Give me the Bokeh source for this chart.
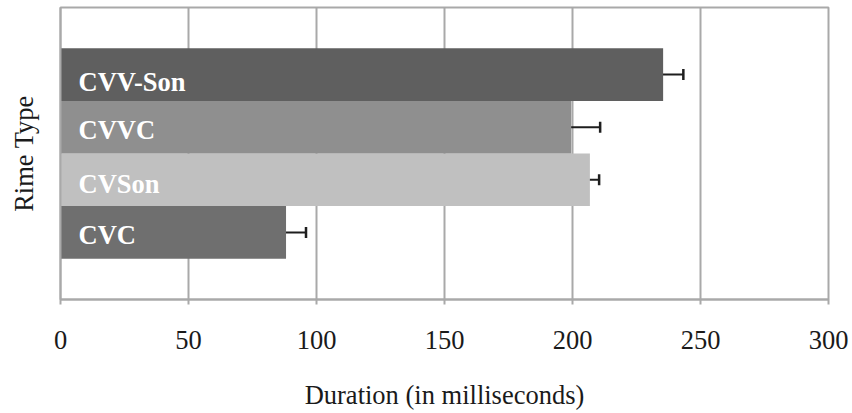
from bokeh.plotting import figure
from bokeh.models import ColumnDataSource, FactorRange, Range1d, FixedTicker, Whisker, TeeHead
from bokeh.core.properties import value
from bokeh.embed import file_html
from bokeh.resources import INLINE

# ---- data (bottom to top) ----
categories = ["CVC", "CVSon", "CVVC", "CVV-Son"]
durations = [88.1, 206.8, 199.5, 235.4]
errors = [7.8, 3.6, 11.3, 7.9]
bar_colors = ["#6f6f6f", "#c0c0c0", "#8f8f8f", "#5f5f5f"]
x_ticks = [0, 50, 100, 150, 200, 250, 300]

# style: label vertical nudges (px)
label_dy = [3, 4, 3, 7]

FONT = "Liberation Serif"
FS = "26.5px"
GRID = "#a9a9a9"

src = ColumnDataSource(dict(
    cat=categories,
    dur=durations,
    lo=[d - e for d, e in zip(durations, errors)],
    hi=[d + e for d, e in zip(durations, errors)],
    color=bar_colors,
    dy=label_dy,
))

p = figure(
    width=852, height=413,
    y_range=FactorRange(*categories, range_padding=0.775, range_padding_units="absolute"),
    x_range=Range1d(0, 300),
    output_backend="svg", toolbar_location=None,
    min_border_left=60, min_border_right=24, min_border_top=7, min_border_bottom=114,
)

p.hbar(y="cat", right="dur", left=0, height=1.0, source=src,
       fill_color="color", line_color=None)

p.add_layout(Whisker(base="cat", lower="lo", upper="hi", dimension="width", source=src,
                     line_color="#1e1e1e", line_width=2,
                     lower_head=TeeHead(size=11, line_color="#1e1e1e", line_width=2.5),
                     upper_head=TeeHead(size=11, line_color="#1e1e1e", line_width=2.5)))

p.text(x=0, y="cat", text="cat", source=src, x_offset=18, y_offset="dy",
       text_font=value(FONT), text_font_size=FS, text_font_style="bold",
       text_color="white", text_baseline="middle", text_align="left")

# x axis
p.xaxis.ticker = FixedTicker(ticks=x_ticks)
p.xaxis.axis_label = "Duration (in milliseconds)"
p.xaxis.axis_label_text_font = FONT
p.xaxis.axis_label_text_font_size = FS
p.xaxis.axis_label_text_font_style = "normal"
p.xaxis.axis_label_text_color = "#1a1a1a"
p.xaxis.axis_label_standoff = 28
p.xaxis.major_label_text_font = FONT
p.xaxis.major_label_text_font_size = FS
p.xaxis.major_label_text_color = "#1a1a1a"
p.xaxis.major_label_standoff = 26
p.xaxis.axis_line_color = GRID
p.xaxis.axis_line_width = 2
p.xaxis.major_tick_line_color = GRID
p.xaxis.major_tick_line_width = 2
p.xaxis.major_tick_out = 5
p.xaxis.major_tick_in = 0
p.xaxis.minor_tick_line_color = None

# y axis: no ticks / tick labels, only the title
p.yaxis.ticker = FixedTicker(ticks=[])
p.yaxis.axis_label = "Rime Type"
p.yaxis.axis_label_text_font = FONT
p.yaxis.axis_label_text_font_size = FS
p.yaxis.axis_label_text_font_style = "normal"
p.yaxis.axis_label_text_color = "#1a1a1a"
p.yaxis.axis_label_standoff = 22
p.yaxis.major_tick_out = 0
p.yaxis.major_tick_in = 0
p.yaxis.major_tick_line_color = None
p.yaxis.axis_line_color = GRID
p.yaxis.axis_line_width = 2

# grid / outline
p.xgrid.grid_line_color = GRID
p.xgrid.grid_line_width = 2
p.ygrid.grid_line_color = None
p.outline_line_color = GRID
p.outline_line_width = 2

open("out.html", "w").write(file_html(p, INLINE))
